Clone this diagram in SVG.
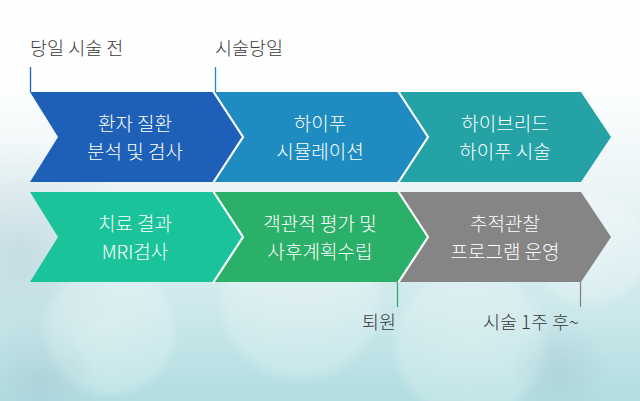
<svg xmlns="http://www.w3.org/2000/svg" width="640" height="401" viewBox="0 0 640 401">
  <defs>
    <linearGradient id="bg" x1="0" y1="0" x2="0" y2="1">
      <stop offset="0" stop-color="#ffffff"/>
      <stop offset="0.22" stop-color="#fdfefe"/>
      <stop offset="0.5" stop-color="#e8f3f5"/>
      <stop offset="0.75" stop-color="#cfe9ec"/>
      <stop offset="1" stop-color="#b1dee1"/>
    </linearGradient>
    <radialGradient id="bokeh" cx="0.5" cy="0.5" r="0.5">
      <stop offset="0" stop-color="#ffffff" stop-opacity="0.3"/>
      <stop offset="0.85" stop-color="#ffffff" stop-opacity="0.2"/>
      <stop offset="1" stop-color="#ffffff" stop-opacity="0"/>
    </radialGradient>
    <radialGradient id="shade" cx="0.5" cy="0.5" r="0.5">
      <stop offset="0" stop-color="#9fbfcc" stop-opacity="0.35"/>
      <stop offset="1" stop-color="#9fbfcc" stop-opacity="0"/>
    </radialGradient>
    <style>
      .t { font-family: "Noto Sans CJK KR", "Noto Sans", sans-serif; font-size: 19px; font-weight: 300; fill: #ffffff; text-anchor: middle; }
      .lbl { font-family: "Noto Sans CJK KR", "Noto Sans", sans-serif; font-size: 18.5px; font-weight: 300; fill: #3a3a3a; }
      .sep { fill: none; stroke: #ffffff; stroke-width: 2.2; }
      .tick { stroke-width: 1.3; }
    </style>
  </defs>

  <rect x="0" y="0" width="640" height="401" fill="url(#bg)"/>
  <g id="background-bokeh">
    <ellipse cx="20" cy="250" rx="110" ry="110" fill="url(#shade)"/>
    <circle cx="110" cy="330" r="70" fill="url(#bokeh)"/>
    <circle cx="300" cy="300" r="85" fill="url(#bokeh)"/>
    <circle cx="470" cy="345" r="80" fill="url(#bokeh)"/>
    <circle cx="590" cy="250" r="60" fill="url(#bokeh)"/>
    <circle cx="560" cy="370" r="50" fill="url(#shade)"/>
    <circle cx="40" cy="380" r="60" fill="url(#shade)"/>
  </g>

  <g id="chevron-1">
    <polygon points="30,92 213,92 243,137 213,182 30,182 58,137" fill="#1e5fb8"/>
    <text class="t" x="135" y="131">환자 질환</text>
    <text class="t" x="135" y="159">분석 및 검사</text>
  </g>
  <g id="chevron-2">
    <polygon points="213,92 398,92 428,137 398,182 213,182 243,137" fill="#1f8cc1"/>
    <text class="t" x="320" y="131">하이푸</text>
    <text class="t" x="320" y="159">시뮬레이션</text>
  </g>
  <g id="chevron-3">
    <polygon points="398,92 581,92 611,137 581,182 398,182 428,137" fill="#24a2a6"/>
    <text class="t" x="505" y="131">하이브리드</text>
    <text class="t" x="505" y="159">하이푸 시술</text>
  </g>
  <g id="chevron-4">
    <polygon points="30,192 213,192 243,237 213,282 30,282 58,237" fill="#1ac39a"/>
    <text class="t" x="135" y="231">치료 결과</text>
    <text class="t" x="135" y="259">MRI검사</text>
  </g>
  <g id="chevron-5">
    <polygon points="213,192 398,192 428,237 398,282 213,282 243,237" fill="#2bb06a"/>
    <text class="t" x="320" y="231">객관적 평가 및</text>
    <text class="t" x="320" y="259">사후계획수립</text>
  </g>
  <g id="chevron-6">
    <polygon points="398,192 581,192 611,237 581,282 398,282 428,237" fill="#858585"/>
    <text class="t" x="505" y="231">추적관찰</text>
    <text class="t" x="505" y="259">프로그램 운영</text>
  </g>

  <g id="connectors">
    <polyline class="sep" points="213,91 243,137 213,183"/>
    <polyline class="sep" points="398,91 428,137 398,183"/>
    <polyline class="sep" points="213,191 243,237 213,283"/>
    <polyline class="sep" points="398,191 428,237 398,283"/>
    <line class="tick" x1="30.5" y1="67" x2="30.5" y2="92" stroke="#1e5fb8"/>
    <line class="tick" x1="215.5" y1="67" x2="215.5" y2="92" stroke="#1f8cc1"/>
    <line class="tick" x1="397.5" y1="282" x2="397.5" y2="307" stroke="#2bb06a"/>
    <line class="tick" x1="580.5" y1="282" x2="580.5" y2="307" stroke="#858585"/>
  </g>

  <g id="labels">
    <text class="lbl" x="30" y="55">당일 시술 전</text>
    <text class="lbl" x="215" y="55">시술당일</text>
    <text class="lbl" x="396" y="329" text-anchor="end">퇴원</text>
    <text class="lbl" x="579" y="329" text-anchor="end">시술 1주 후~</text>
  </g>
</svg>
